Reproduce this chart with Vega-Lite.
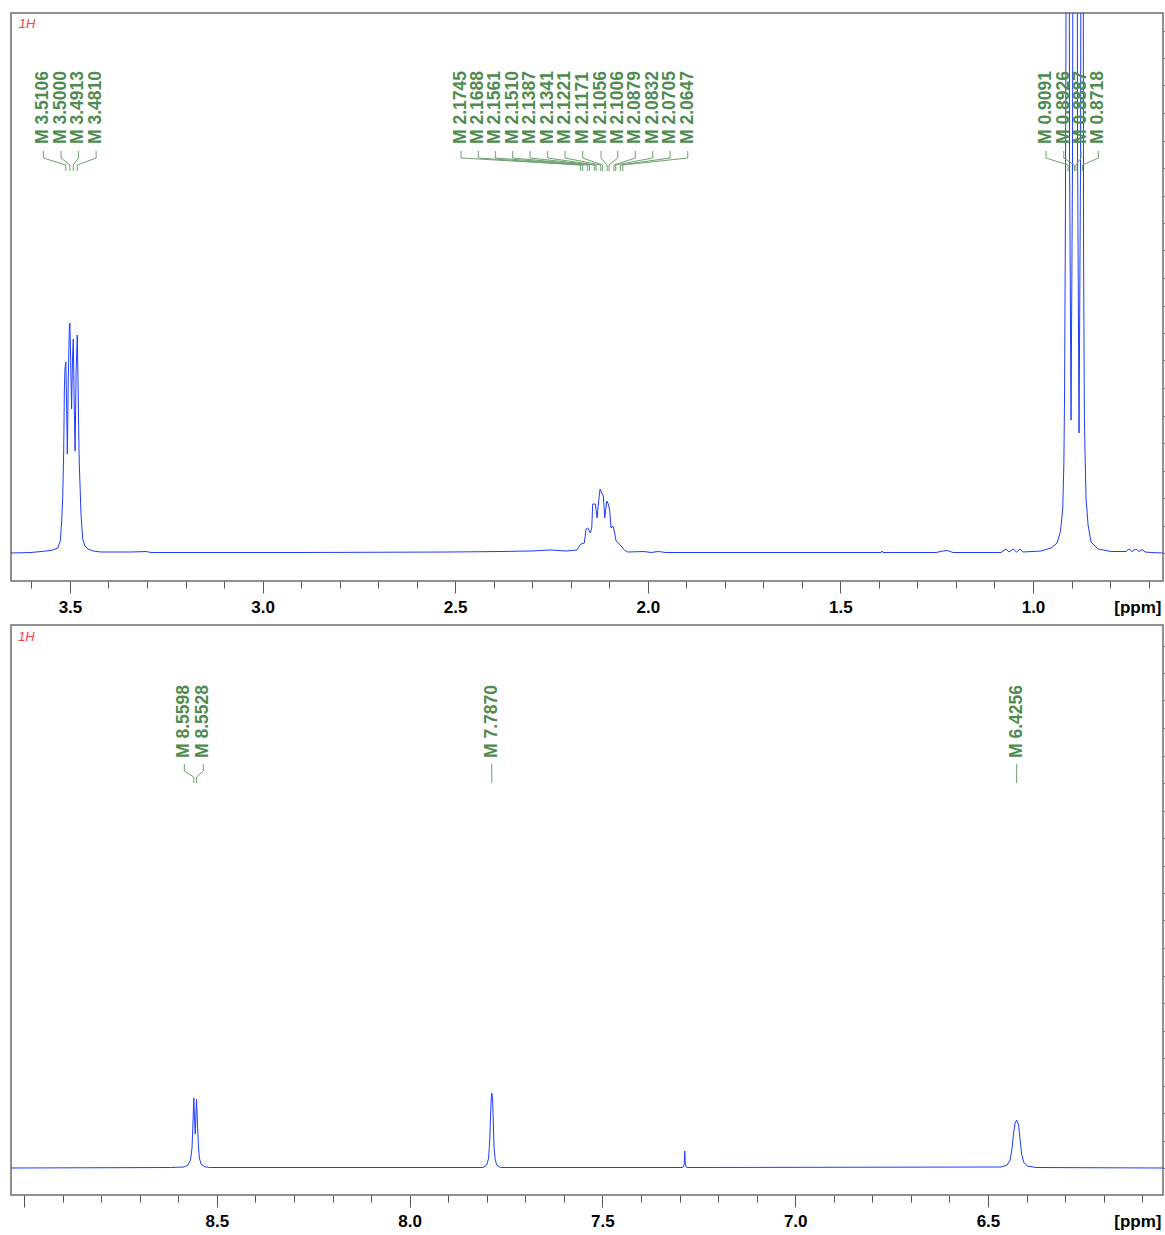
{
  "$schema": "https://vega.github.io/schema/vega-lite/v6.json",
  "background": "white",
  "padding": {"left": 10, "top": 12, "right": 0, "bottom": 0},
  "spacing": 44,
  "bounds": "flush",
  "config": {
    "view": {"stroke": "#6e6e6e", "strokeWidth": 1.5},
    "font": "Liberation Sans"
  },
  "datasets": {
    "top": [
      {"ppm":3.653,"h":0},{"ppm":3.601,"h":0.5},{"ppm":3.562,"h":2},{"ppm":3.544,"h":3},{"ppm":3.5318,"h":5},{"ppm":3.525,"h":12},{"ppm":3.5214,"h":32},{"ppm":3.5188,"h":55},{"ppm":3.5162,"h":102},{"ppm":3.5144,"h":165},{"ppm":3.5128,"h":185},{"ppm":3.5106,"h":191},{"ppm":3.5087,"h":150},{"ppm":3.5068,"h":99},{"ppm":3.5042,"h":175},{"ppm":3.5016,"h":225},{"ppm":3.5,"h":230},{"ppm":3.498,"h":190},{"ppm":3.4957,"h":144},{"ppm":3.4933,"h":195},{"ppm":3.4913,"h":214},{"ppm":3.4889,"h":150},{"ppm":3.4866,"h":102},{"ppm":3.484,"h":180},{"ppm":3.481,"h":218},{"ppm":3.4791,"h":175},{"ppm":3.4772,"h":120},{"ppm":3.4757,"h":89},{"ppm":3.4713,"h":39},{"ppm":3.4669,"h":14},{"ppm":3.4609,"h":7},{"ppm":3.4531,"h":4},{"ppm":3.4401,"h":2},{"ppm":3.4194,"h":1},{"ppm":3.3415,"h":1},{"ppm":3.3025,"h":1.5},{"ppm":3.2895,"h":0.5},{"ppm":2.9001,"h":0.5},{"ppm":2.5107,"h":1},{"ppm":2.3809,"h":1.5},{"ppm":2.303,"h":2},{"ppm":2.2511,"h":3},{"ppm":2.2122,"h":2},{"ppm":2.1836,"h":3},{"ppm":2.1776,"h":7},{"ppm":2.1732,"h":9},{"ppm":2.1647,"h":10},{"ppm":2.1602,"h":24},{"ppm":2.1558,"h":25},{"ppm":2.1491,"h":20},{"ppm":2.1455,"h":25},{"ppm":2.1429,"h":49},{"ppm":2.1361,"h":49},{"ppm":2.1317,"h":35},{"ppm":2.1283,"h":49},{"ppm":2.1239,"h":64},{"ppm":2.1195,"h":60},{"ppm":2.1153,"h":57},{"ppm":2.1117,"h":35},{"ppm":2.1065,"h":52},{"ppm":2.1024,"h":49},{"ppm":2.0987,"h":42},{"ppm":2.0954,"h":25},{"ppm":2.0909,"h":27},{"ppm":2.0868,"h":22},{"ppm":2.0824,"h":12},{"ppm":2.0764,"h":10},{"ppm":2.0694,"h":7},{"ppm":2.0609,"h":3},{"ppm":2.052,"h":1},{"ppm":2.0097,"h":1.5},{"ppm":1.9915,"h":0.5},{"ppm":1.9733,"h":1.5},{"ppm":1.9526,"h":0.5},{"ppm":1.3944,"h":0.5},{"ppm":1.3918,"h":2},{"ppm":1.3892,"h":0.5},{"ppm":1.2517,"h":0.5},{"ppm":1.2335,"h":2},{"ppm":1.2231,"h":2.5},{"ppm":1.2075,"h":0.5},{"ppm":1.0829,"h":0.5},{"ppm":1.0699,"h":4},{"ppm":1.0621,"h":1},{"ppm":1.0518,"h":4},{"ppm":1.0427,"h":1},{"ppm":1.0336,"h":4},{"ppm":1.0258,"h":1},{"ppm":0.979,"h":2},{"ppm":0.9531,"h":5},{"ppm":0.9375,"h":10},{"ppm":0.9284,"h":22},{"ppm":0.9227,"h":45},{"ppm":0.9198,"h":90},{"ppm":0.918,"h":160},{"ppm":0.916,"h":320},{"ppm":0.9129,"h":700},{"ppm":0.9091,"h":1500},{"ppm":0.9051,"h":400},{"ppm":0.9012,"h":133},{"ppm":0.8973,"h":400},{"ppm":0.8926,"h":1500},{"ppm":0.8907,"h":1000},{"ppm":0.8887,"h":1500},{"ppm":0.8843,"h":400},{"ppm":0.8804,"h":120},{"ppm":0.8765,"h":400},{"ppm":0.8718,"h":1500},{"ppm":0.8687,"h":300},{"ppm":0.8666,"h":137},{"ppm":0.8648,"h":98},{"ppm":0.8622,"h":54},{"ppm":0.857,"h":28},{"ppm":0.8493,"h":11},{"ppm":0.8311,"h":4},{"ppm":0.7973,"h":1.5},{"ppm":0.7584,"h":1.5},{"ppm":0.7506,"h":4},{"ppm":0.7428,"h":1.5},{"ppm":0.7324,"h":4},{"ppm":0.7247,"h":1.5},{"ppm":0.7169,"h":3.5},{"ppm":0.7091,"h":1},{"ppm":0.6935,"h":0.5},{"ppm":0.6625,"h":0}
    ],
    "bottom": [
      {"ppm":9.034,"h":0},{"ppm":8.62,"h":0.5},{"ppm":8.585,"h":1},{"ppm":8.575,"h":3},{"ppm":8.5685,"h":8},{"ppm":8.5645,"h":20},{"ppm":8.562,"h":45},{"ppm":8.5598,"h":70},{"ppm":8.5575,"h":45},{"ppm":8.5563,"h":34},{"ppm":8.555,"h":45},{"ppm":8.5528,"h":69},{"ppm":8.5505,"h":45},{"ppm":8.548,"h":24},{"ppm":8.5455,"h":10},{"ppm":8.541,"h":4},{"ppm":8.533,"h":1.5},{"ppm":8.52,"h":0.5},{"ppm":7.81,"h":0.5},{"ppm":7.8,"h":3},{"ppm":7.795,"h":10},{"ppm":7.792,"h":30},{"ppm":7.79,"h":55},{"ppm":7.788,"h":72},{"ppm":7.787,"h":75},{"ppm":7.785,"h":70},{"ppm":7.783,"h":45},{"ppm":7.781,"h":20},{"ppm":7.778,"h":8},{"ppm":7.774,"h":3},{"ppm":7.765,"h":0.5},{"ppm":7.292,"h":0.5},{"ppm":7.288,"h":3},{"ppm":7.2865,"h":17},{"ppm":7.2848,"h":3},{"ppm":7.281,"h":0.5},{"ppm":6.4659,"h":1},{"ppm":6.4503,"h":3},{"ppm":6.4426,"h":8},{"ppm":6.4374,"h":20},{"ppm":6.4335,"h":35},{"ppm":6.4296,"h":45},{"ppm":6.4256,"h":48},{"ppm":6.4205,"h":43},{"ppm":6.4166,"h":28},{"ppm":6.4127,"h":14},{"ppm":6.4075,"h":6},{"ppm":6.3985,"h":2},{"ppm":6.3751,"h":0.5},{"ppm":6.046,"h":0}
    ],
    "topLabels": [
      {"t":"M 3.5106","lx":3.569,"px":3.5106},{"t":"M 3.5000","lx":3.523,"px":3.5},{"t":"M 3.4913","lx":3.478,"px":3.4913},{"t":"M 3.4810","lx":3.432,"px":3.481},
      {"t":"M 2.1745","lx":2.4848,"px":2.1745},{"t":"M 2.1688","lx":2.4399,"px":2.1688},{"t":"M 2.1561","lx":2.3957,"px":2.1561},{"t":"M 2.1510","lx":2.3506,"px":2.151},{"t":"M 2.1387","lx":2.3056,"px":2.1387},{"t":"M 2.1341","lx":2.2597,"px":2.1341},{"t":"M 2.1221","lx":2.2148,"px":2.1221},{"t":"M 2.1171","lx":2.1688,"px":2.1171},{"t":"M 2.1056","lx":2.1213,"px":2.1056},{"t":"M 2.1006","lx":2.078,"px":2.1006},{"t":"M 2.0879","lx":2.0323,"px":2.0879},{"t":"M 2.0832","lx":1.9871,"px":2.0832},{"t":"M 2.0705","lx":1.9422,"px":2.0705},{"t":"M 2.0647","lx":1.8962,"px":2.0647},
      {"t":"M 0.9091","lx":0.9661,"px":0.9091},{"t":"M 0.8926","lx":0.9201,"px":0.8926},{"t":"M 0.8887","lx":0.8752,"px":0.8887},{"t":"M 0.8718","lx":0.8303,"px":0.8718}
    ],
    "bottomLabels": [
      {"t":"M 8.5598","lx":8.5845,"px":8.5598},{"t":"M 8.5528","lx":8.5352,"px":8.5528},{"t":"M 7.7870","lx":7.787,"px":7.787},{"t":"M 6.4256","lx":6.4256,"px":6.4256}
    ]
  },
  "vconcat": [
    {
      "width": 1152,
      "height": 568,
      "layer": [
        {
          "data": {"name": "top"},
          "mark": {"type": "line", "color": "#1f3cff", "strokeWidth": 1, "clip": true, "interpolate": "linear"},
          "encoding": {
            "x": {"field": "ppm", "type": "quantitative",
              "scale": {"domain": [0.6625, 3.653], "reverse": true, "nice": false, "zero": false},
              "axis": {
                "values": [0.7,0.8,0.9,1.0,1.1,1.2,1.3,1.4,1.5,1.6,1.7,1.8,1.9,2.0,2.1,2.2,2.3,2.4,2.5,2.6,2.7,2.8,2.9,3.0,3.1,3.2,3.3,3.4,3.5,3.6],
                "tickCount": 200,
                "labelExpr": "abs(datum.value*2 - round(datum.value*2)) < 0.01 ? format(datum.value, '.1f') : ''",
                "tickSize": {"condition": {"test": "abs(datum.value*2 - round(datum.value*2)) < 0.01", "value": 12}, "value": 7},
                "tickColor": "#555", "tickWidth": 1, "domain": false, "grid": false,
                "labelFont": "Liberation Sans", "labelFontWeight": "bold", "labelFontSize": 17, "labelColor": "#000",
                "labelPadding": 6, "labelBaseline": "top", "labelFlush": false, "labelOverlap": false,
                "title": "[ppm]", "titleFont": "Liberation Sans", "titleFontWeight": "bold", "titleFontSize": 17, "titleColor": "#000",
                "titleAnchor": "end", "titleAlign": "right", "titleBaseline": "top", "titleX": 1150, "titleY": 18
              }
            },
            "y": {"field": "h", "type": "quantitative",
              "scale": {"domain": [-28, 540], "nice": false, "zero": false},
              "axis": {"orient": "right", "labels": false, "domain": false, "grid": false, "title": null, "tickSize": 4, "tickColor": "#666", "tickCount": 200,
                "values": [0,27.5,55,82.5,110,137.5,165,192.5,220,247.5,275,302.5,330,357.5,385,412.5,440,467.5,495,522.5]}
            }
          }
        },
        {
          "data": {"name": "topLabels"},
          "mark": {"type": "rule", "color": "#6fa06f", "strokeWidth": 1},
          "encoding": {"x": {"field": "lx", "type": "quantitative"}, "y": {"datum": 402}, "y2": {"datum": 395}}
        },
        {
          "data": {"name": "topLabels"},
          "mark": {"type": "rule", "color": "#6fa06f", "strokeWidth": 1},
          "encoding": {"x": {"field": "lx", "type": "quantitative"}, "x2": {"field": "px"}, "y": {"datum": 395}, "y2": {"datum": 388}}
        },
        {
          "data": {"name": "topLabels"},
          "mark": {"type": "rule", "color": "#6fa06f", "strokeWidth": 1},
          "encoding": {"x": {"field": "px", "type": "quantitative"}, "y": {"datum": 388}, "y2": {"datum": 382}}
        },
        {
          "data": {"name": "topLabels"},
          "mark": {"type": "text", "angle": 270, "align": "left", "baseline": "middle", "font": "Liberation Sans", "fontWeight": "bold", "fontSize": 17.5, "color": "#4e8c4e"},
          "encoding": {"x": {"field": "lx", "type": "quantitative"}, "y": {"datum": 409}, "text": {"field": "t"}}
        },
        {
          "data": {"values": [{"t": "1H"}]},
          "mark": {"type": "text", "align": "left", "baseline": "middle", "font": "Liberation Sans", "fontStyle": "italic", "fontSize": 13, "color": "#ff3b3b"},
          "encoding": {"x": {"datum": 3.633}, "y": {"datum": 529}, "text": {"field": "t"}}
        }
      ]
    },
    {
      "width": 1152,
      "height": 570,
      "layer": [
        {
          "data": {"name": "bottom"},
          "mark": {"type": "line", "color": "#1f3cff", "strokeWidth": 1, "clip": true, "interpolate": "linear"},
          "encoding": {
            "x": {"field": "ppm", "type": "quantitative",
              "scale": {"domain": [6.046, 9.034], "reverse": true, "nice": false, "zero": false},
              "axis": {
                "values": [6.1,6.2,6.3,6.4,6.5,6.6,6.7,6.8,6.9,7.0,7.1,7.2,7.3,7.4,7.5,7.6,7.7,7.8,7.9,8.0,8.1,8.2,8.3,8.4,8.5,8.6,8.7,8.8,8.9,9.0],
                "tickCount": 200,
                "labelExpr": "abs(datum.value*2 - round(datum.value*2)) < 0.01 && datum.value < 8.95 ? format(datum.value, '.1f') : ''",
                "tickSize": {"condition": {"test": "abs(datum.value*2 - round(datum.value*2)) < 0.01", "value": 12}, "value": 7},
                "tickColor": "#555", "tickWidth": 1, "domain": false, "grid": false,
                "labelFont": "Liberation Sans", "labelFontWeight": "bold", "labelFontSize": 17, "labelColor": "#000",
                "labelPadding": 6, "labelBaseline": "top", "labelFlush": false, "labelOverlap": false,
                "title": "[ppm]", "titleFont": "Liberation Sans", "titleFontWeight": "bold", "titleFontSize": 17, "titleColor": "#000",
                "titleAnchor": "end", "titleAlign": "right", "titleBaseline": "top", "titleX": 1150, "titleY": 18
              }
            },
            "y": {"field": "h", "type": "quantitative",
              "scale": {"domain": [-27, 543], "nice": false, "zero": false},
              "axis": {"orient": "right", "labels": false, "domain": false, "grid": false, "title": null, "tickSize": 4, "tickColor": "#666", "tickCount": 200,
                "values": [0,27.5,55,82.5,110,137.5,165,192.5,220,247.5,275,302.5,330,357.5,385,412.5,440,467.5,495,522.5]}
            }
          }
        },
        {
          "data": {"name": "bottomLabels"},
          "mark": {"type": "rule", "color": "#6fa06f", "strokeWidth": 1},
          "encoding": {"x": {"field": "lx", "type": "quantitative"}, "y": {"datum": 404}, "y2": {"datum": 397}}
        },
        {
          "data": {"name": "bottomLabels"},
          "mark": {"type": "rule", "color": "#6fa06f", "strokeWidth": 1},
          "encoding": {"x": {"field": "lx", "type": "quantitative"}, "x2": {"field": "px"}, "y": {"datum": 397}, "y2": {"datum": 391}}
        },
        {
          "data": {"name": "bottomLabels"},
          "mark": {"type": "rule", "color": "#6fa06f", "strokeWidth": 1},
          "encoding": {"x": {"field": "px", "type": "quantitative"}, "y": {"datum": 391}, "y2": {"datum": 385}}
        },
        {
          "data": {"name": "bottomLabels"},
          "mark": {"type": "text", "angle": 270, "align": "left", "baseline": "middle", "font": "Liberation Sans", "fontWeight": "bold", "fontSize": 17.5, "color": "#4e8c4e"},
          "encoding": {"x": {"field": "lx", "type": "quantitative"}, "y": {"datum": 410}, "text": {"field": "t"}}
        },
        {
          "data": {"values": [{"t": "1H"}]},
          "mark": {"type": "text", "align": "left", "baseline": "middle", "font": "Liberation Sans", "fontStyle": "italic", "fontSize": 13, "color": "#ff3b3b"},
          "encoding": {"x": {"datum": 9.016}, "y": {"datum": 531}, "text": {"field": "t"}}
        }
      ]
    }
  ]
}
